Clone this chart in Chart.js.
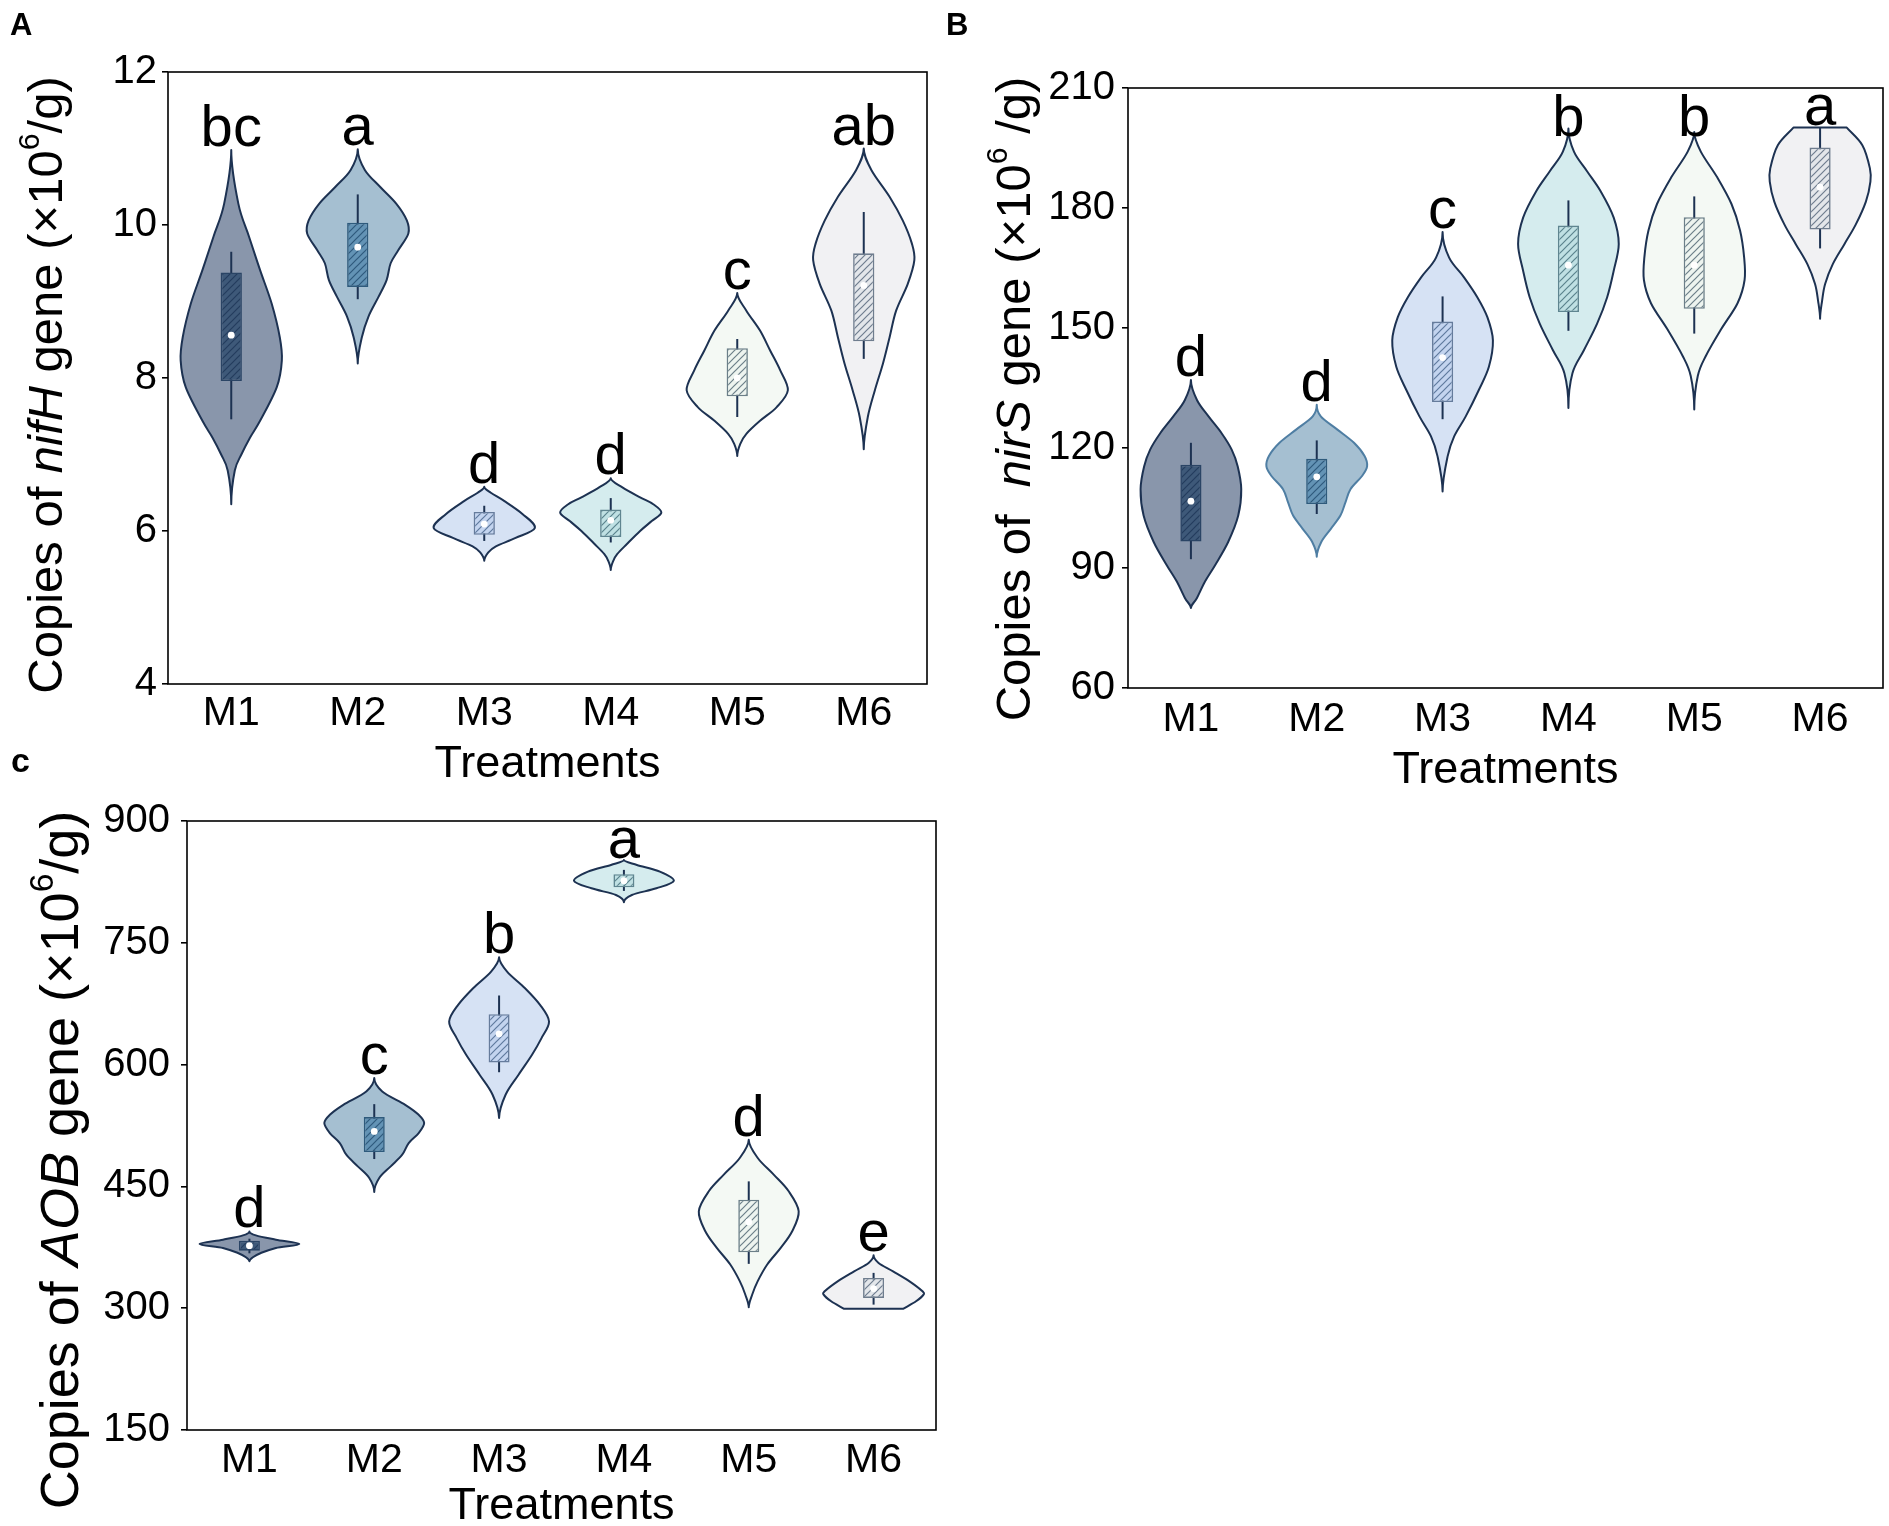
<!DOCTYPE html>
<html>
<head>
<meta charset="utf-8">
<script src="https://cdn.jsdelivr.net/npm/chart.js@4.4.1/dist/chart.umd.min.js"></script>
<style>
  html, body { margin:0; padding:0; background:#fff; width:1889px; height:1526px; overflow:hidden; }
  canvas { position:absolute; }
</style>
</head>
<body>
<canvas id="cA" width="945" height="800" style="left:0;top:0"></canvas>
<canvas id="cB" width="944" height="800" style="left:945px;top:0"></canvas>
<canvas id="cC" width="945" height="800" style="left:0;top:740px"></canvas>
<script>
// ---------------- DATA ----------------
const categories = ['M1','M2','M3','M4','M5','M6'];

// Panel A: nifH (x10^6/g)
const nifH_whiskerLow  = [7.46, 9.03, 5.87, 5.85, 7.49, 8.25];
const nifH_q1          = [7.96, 9.19, 5.95, 5.92, 7.76, 8.48];
const nifH_median      = [8.56, 9.71, 6.09, 6.14, 8.00, 9.21];
const nifH_q3          = [9.38, 10.03, 6.25, 6.28, 8.39, 9.63];
const nifH_whiskerHigh = [9.65, 10.40, 6.33, 6.43, 8.51, 10.17];
const nifH_letters     = ['bc','a','d','d','c','ab'];
// density profiles: [value, relative density]
const nifH_density = [
  [[10.98,0],[10.28,0.14],[9.85,0.35],[9.41,0.57],[8.97,0.8],[8.53,0.96],[8.23,1],[7.88,0.9],[7.44,0.57],[7.22,0.37],[7.0,0.2],[6.79,0.07],[6.35,0]],
  [[10.99,0],[10.72,0.14],[10.5,0.44],[10.28,0.76],[10.06,0.97],[9.89,1],[9.67,0.8],[9.5,0.65],[9.28,0.57],[9.06,0.41],[8.8,0.21],[8.53,0.08],[8.19,0]],
  [[6.58,0],[6.50,0.13],[6.39,0.4],[6.22,0.76],[6.04,1],[5.91,0.62],[5.80,0.23],[5.72,0.08],[5.61,0]],
  [[6.69,0],[6.57,0.23],[6.44,0.58],[6.35,0.84],[6.24,1],[6.13,0.81],[6.0,0.58],[5.83,0.32],[5.70,0.13],[5.61,0.05],[5.49,0]],
  [[9.11,0],[8.88,0.18],[8.62,0.45],[8.36,0.65],[8.10,0.85],[7.84,1],[7.62,0.78],[7.44,0.45],[7.27,0.18],[7.14,0.06],[6.98,0]],
  [[11.0,0],[10.72,0.15],[10.37,0.51],[10.06,0.77],[9.76,0.95],[9.54,1],[9.23,0.87],[8.88,0.64],[8.53,0.51],[8.19,0.38],[7.84,0.22],[7.49,0.08],[7.07,0]]
];
const nifH_ticks = [4, 12, 2];

// Panel B: nirS (x10^6/g)
const nirS_whiskerLow  = [92.2, 103.5, 127.2, 149.3, 148.6, 169.9];
const nirS_q1          = [96.6, 106.0, 131.5, 154.0, 154.8, 174.6];
const nirS_median      = [106.7, 112.8, 142.6, 165.7, 165.7, 185.2];
const nirS_q3          = [115.8, 117.3, 151.6, 175.6, 177.7, 195.1];
const nirS_whiskerHigh = [121.3, 121.9, 157.9, 181.9, 182.9, 200.1];
const nirS_letters     = ['d','d','c','b','b','a'];
const nirS_density = [
  [[137.0,0],[132.0,0.12],[127.9,0.35],[123.7,0.61],[119.6,0.81],[115.4,0.93],[109.7,1],[103.1,0.94],[96.5,0.74],[90.7,0.48],[86.6,0.28],[82.5,0.12],[80.0,0]],
  [[130.8,0],[127.9,0.08],[124.6,0.41],[121.3,0.74],[118.0,0.95],[115.4,1],[113.0,0.9],[109.7,0.67],[106.4,0.57],[103.1,0.47],[99.8,0.28],[96.5,0.09],[92.8,0]],
  [[174.0,0],[167.6,0.13],[162.6,0.43],[157.7,0.69],[152.7,0.89],[146.9,1],[140.3,0.92],[134.5,0.72],[127.9,0.46],[122.9,0.23],[117.9,0.1],[109.1,0]],
  [[199.9,0],[194.1,0.11],[189.2,0.37],[184.2,0.64],[177.6,0.9],[171.0,1],[164.3,0.9],[157.7,0.77],[151.1,0.57],[144.5,0.31],[138.7,0.08],[130.0,0]],
  [[199.0,0],[194.1,0.13],[187.6,0.46],[181.0,0.74],[174.4,0.91],[167.8,0.99],[162.0,1],[156.2,0.86],[149.6,0.53],[143.0,0.23],[138.0,0.07],[129.6,0]],
  [[200.1,0.53],[195.7,0.84],[189.9,0.99],[186.6,1],[181.6,0.91],[175.9,0.71],[170.9,0.48],[165.9,0.25],[161.0,0.1],[156.8,0.04],[152.3,0]]
];
const nirS_ticks = [60, 210, 30];

// Panel C: AOB (x10^6/g)
const AOB_whiskerLow  = [367.6, 483.7, 590.6, 813.9, 354.6, 304.4];
const AOB_q1          = [370.9, 492.3, 602.6, 818.4, 368.8, 312.7];
const AOB_median      = [377.0, 517.7, 637.9, 826.5, 406.2, 324.2];
const AOB_q3          = [383.2, 535.4, 662.1, 834.4, 433.6, 337.3];
const AOB_whiskerHigh = [385.6, 551.3, 685.1, 839.8, 456.2, 343.5];
const AOB_letters     = ['d','c','b','a','d','e'];
const AOB_density = [
  [[394.6,0],[389.7,0.13],[384.4,0.53],[379.1,1],[374.2,0.53],[368.0,0.23],[362.7,0.07],[357.7,0]],
  [[583.4,0],[566.9,0.16],[550.5,0.62],[538.2,0.89],[528.0,1],[515.7,0.89],[503.4,0.69],[489.0,0.56],[474.7,0.33],[460.3,0.1],[443.1,0]],
  [[732.3,0],[714.6,0.16],[694.1,0.52],[673.6,0.82],[653.1,1],[632.6,0.85],[612.1,0.66],[587.5,0.39],[562.9,0.13],[534.2,0]],
  [[852.0,0],[845.9,0.26],[837.7,0.72],[826.5,1],[817.1,0.65],[808.9,0.16],[800.0,0]],
  [[507.5,0],[485.0,0.18],[464.5,0.5],[444.0,0.8],[419.4,1],[394.8,0.87],[374.3,0.64],[353.8,0.37],[333.3,0.18],[316.9,0.07],[301.1,0]],
  [[365.1,0],[355.7,0.1],[345.4,0.39],[333.1,0.72],[320.8,0.98],[316.7,1],[308.5,0.85],[299.2,0.59]]
];
const AOB_ticks = [150, 900, 150];

// ---------------- STYLE ----------------
const FONT = "'Liberation Sans', Arial, Helvetica, sans-serif";
const violinFill  = ['#8996ab','#a5bfd1','#d6e2f4','#d5ecee','#f4f9f4','#f1f1f3'];
const violinEdge  = '#1d3252';
const boxFill     = ['#3e5979','#6393b5','#c3d4ef','#bfe0e3','#edf4ef','#e3e6ea'];
const boxHatch    = ['#243d5e','#2f5a7c','#5f7a9e','#5b838d','#6b7f88','#6f7d8e'];
const boxEdge     = ['#2a4465','#2e5a7c','#667c9c','#5f8590','#6b7f88','#6f7d8e'];

Chart.defaults.font.family = FONT;
Chart.defaults.color = '#000';

function hatch(bg, line) {
  const c = document.createElement('canvas'); c.width = 7; c.height = 7;
  const g = c.getContext('2d');
  g.fillStyle = bg; g.fillRect(0,0,7,7);
  g.strokeStyle = line; g.lineWidth = 1.2;
  g.beginPath();
  g.moveTo(-1,8); g.lineTo(8,-1);
  g.moveTo(-4.5,4.5); g.lineTo(4.5,-4.5);
  g.moveTo(2.5,11.5); g.lineTo(11.5,2.5);
  g.stroke();
  return g.createPattern(c, 'repeat');
}

function sidePath(ctx, pts, startTip, endTip, move) {
  const n = pts.length;
  const T = pts.map((p, i) => {
    if (i === 0) return startTip ? {x:0, y:(pts[1].y - p.y)} : {x:pts[1].x - p.x, y:pts[1].y - p.y};
    if (i === n-1) return endTip ? {x:0, y:(p.y - pts[n-2].y)} : {x:p.x - pts[n-2].x, y:p.y - pts[n-2].y};
    return {x:(pts[i+1].x - pts[i-1].x)/2, y:(pts[i+1].y - pts[i-1].y)/2};
  });
  if (move) ctx.moveTo(pts[0].x, pts[0].y); else ctx.lineTo(pts[0].x, pts[0].y);
  for (let i = 0; i < n-1; i++) {
    ctx.bezierCurveTo(pts[i].x + T[i].x/3, pts[i].y + T[i].y/3,
                      pts[i+1].x - T[i+1].x/3, pts[i+1].y - T[i+1].y/3,
                      pts[i+1].x, pts[i+1].y);
  }
}

const violinPlugin = {
  id: 'violins',
  beforeDatasetsDraw(chart) {
    const P = chart.options.plugins.violins;
    const ctx = chart.ctx, xs = chart.scales.x, ys = chart.scales.y;
    const catW = (chart.chartArea.right - chart.chartArea.left) / categories.length;
    const maxHW = catW * 0.40;
    P.density.forEach((prof, i) => {
      const cx = xs.getPixelForValue(i);
      const right = prof.map(([v, d]) => ({x: cx + d*maxHW, y: ys.getPixelForValue(v)}));
      const left = prof.map(([v, d]) => ({x: cx - d*maxHW, y: ys.getPixelForValue(v)})).reverse();
      const topTip = prof[0][1] === 0, botTip = prof[prof.length-1][1] === 0;
      ctx.save();
      ctx.beginPath();
      sidePath(ctx, right, topTip, botTip, true);
      sidePath(ctx, left, botTip, topTip, false);
      ctx.closePath();
      ctx.fillStyle = violinFill[i];
      ctx.fill();
      ctx.lineWidth = 2;
      ctx.lineJoin = 'round';
      ctx.strokeStyle = (P.edgeColors && P.edgeColors[i]) || violinEdge;
      ctx.stroke();
      // whisker
      ctx.beginPath();
      ctx.moveTo(cx, ys.getPixelForValue(P.whiskerLow[i]));
      ctx.lineTo(cx, ys.getPixelForValue(P.whiskerHigh[i]));
      ctx.lineWidth = 2;
      ctx.strokeStyle = '#1d3252';
      ctx.stroke();
      ctx.restore();
    });
  },
  afterDraw(chart) {
    const P = chart.options.plugins.violins;
    const ctx = chart.ctx, xs = chart.scales.x, ys = chart.scales.y, a = chart.chartArea;
    ctx.save();
    // frame
    ctx.strokeStyle = '#000'; ctx.lineWidth = 1.6;
    ctx.strokeRect(a.left, a.top, a.right - a.left, a.bottom - a.top);
    // significance letters
    ctx.font = `58px ${FONT}`; ctx.fillStyle = '#000';
    ctx.textAlign = 'center'; ctx.textBaseline = 'alphabetic';
    P.letters.forEach((t, i) => {
      const cx = xs.getPixelForValue(i);
      const tipY = ys.getPixelForValue(P.density[i][0][0]);
      const asc = ctx.measureText(t).actualBoundingBoxAscent;
      const y = Math.max(tipY - 4, a.top + asc + 6);
      ctx.fillText(t, cx, y);
    });
    // y-axis title (rich text, rotated)
    const size = P.titleSize;
    ctx.translate(P.titleX, P.titleY);
    ctx.rotate(-Math.PI/2);
    const parts = P.title.map(p => {
      const fs = p.sup ? size*0.62 : size;
      const f = `${p.italic ? 'italic ' : ''}${fs}px ${FONT}`;
      ctx.font = f;
      return {p, f, w: ctx.measureText(p.t).width};
    });
    let x = -parts.reduce((s, q) => s + q.w, 0) / 2;
    ctx.textAlign = 'left'; ctx.textBaseline = 'middle';
    parts.forEach(q => {
      ctx.font = q.f;
      ctx.fillText(q.p.t, x, q.p.sup ? -size*0.36 : 0);
      x += q.w;
    });
    ctx.setTransform(1,0,0,1,0,0);
    // panel label
    ctx.font = `bold ${P.panelSize}px ${FONT}`;
    ctx.textAlign = 'left'; ctx.textBaseline = 'alphabetic';
    ctx.fillText(P.panel, P.panelX, P.panelY);
    ctx.restore();
  }
};

function makeChart(id, cfg) {
  const canvas = document.getElementById(id);
  const W = canvas.width, H = canvas.height;
  const area = cfg.area;
  return new Chart(canvas.getContext('2d'), {
    data: {
      labels: categories,
      datasets: [
        {
          type: 'bar',
          data: cfg.q1.map((v, i) => [v, cfg.q3[i]]),
          backgroundColor: boxFill.map((c, i) => hatch(c, boxHatch[i])),
          borderColor: boxEdge,
          borderWidth: 1.6,
          borderSkipped: false,
          barPercentage: 0.168,
          categoryPercentage: 1,
          order: 2
        },
        {
          type: 'line',
          data: cfg.median,
          showLine: false,
          pointRadius: 3.4,
          pointBackgroundColor: '#ffffff',
          pointBorderWidth: 0,
          order: 1
        }
      ]
    },
    options: {
      responsive: false,
      animation: false,
      devicePixelRatio: 1,
      layout: { padding: { left: 0, top: area.t, right: W - area.r, bottom: 0 } },
      plugins: {
        legend: { display: false },
        tooltip: { enabled: false },
        violins: {
          density: cfg.density,
          whiskerLow: cfg.whiskerLow,
          whiskerHigh: cfg.whiskerHigh,
          letters: cfg.letters,
          edgeColors: cfg.edgeColors,
          title: cfg.title,
          titleSize: cfg.titleSize,
          titleX: cfg.titleX,
          titleY: cfg.titleY,
          panel: cfg.panel,
          panelX: cfg.panelX,
          panelY: cfg.panelY,
          panelSize: cfg.panelSize
        }
      },
      scales: {
        x: {
          type: 'category',
          offset: true,
          grid: { display: false, drawTicks: false },
          border: { display: false },
          ticks: { color: '#000', font: { size: 41 }, padding: cfg.xPad },
          title: { display: true, text: 'Treatments', color: '#000', font: { size: 45 }, padding: { top: 0, bottom: cfg.xTitlePad } },
          afterFit(s) { s.height = H - area.b; }
        },
        y: {
          min: cfg.ticks[0], max: cfg.ticks[1],
          ticks: { stepSize: cfg.ticks[2], color: '#000', font: { size: 40 }, padding: cfg.yPad },
          grid: { display: true, drawOnChartArea: false, drawTicks: true, tickLength: 6, color: '#000', lineWidth: 1.6 },
          border: { display: false },
          afterFit(s) { s.width = area.l; }
        }
      }
    },
    plugins: [violinPlugin]
  });
}

makeChart('cA', {
  area: { l: 168, r: 927, t: 72, b: 684 },
  q1: nifH_q1, q3: nifH_q3, median: nifH_median,
  whiskerLow: nifH_whiskerLow, whiskerHigh: nifH_whiskerHigh,
  density: nifH_density, letters: nifH_letters, ticks: nifH_ticks,
  title: [{t:'Copies of '},{t:'nifH', italic:true},{t:' gene (×10'},{t:'6', sup:true},{t:'/g)'}],
  titleSize: 49, titleX: 48, titleY: 385,
  panel: 'A', panelX: 10, panelY: 35, panelSize: 31,
  xPad: 5, xTitlePad: 8, yPad: 5
});

makeChart('cB', {
  area: { l: 183, r: 938, t: 88, b: 688 },
  q1: nirS_q1, q3: nirS_q3, median: nirS_median,
  whiskerLow: nirS_whiskerLow, whiskerHigh: nirS_whiskerHigh,
  density: nirS_density, letters: nirS_letters, ticks: nirS_ticks,
  edgeColors: [null, '#4f7ea3', null, null, null, null],
  title: [{t:'Copies of  '},{t:'nirS', italic:true},{t:' gene (×10'},{t:'6', sup:true},{t:' /g)'}],
  titleSize: 49, titleX: 71, titleY: 399,
  panel: 'B', panelX: 1, panelY: 35, panelSize: 31,
  xPad: 7, xTitlePad: 2, yPad: 7
});

makeChart('cC', {
  area: { l: 187, r: 936, t: 81, b: 690 },
  q1: AOB_q1, q3: AOB_q3, median: AOB_median,
  whiskerLow: AOB_whiskerLow, whiskerHigh: AOB_whiskerHigh,
  density: AOB_density, letters: AOB_letters, ticks: AOB_ticks,
  title: [{t:'Copies of '},{t:'AOB', italic:true},{t:' gene (×10'},{t:'6', sup:true},{t:'/g)'}],
  titleSize: 54, titleX: 63, titleY: 420,
  panel: 'c', panelX: 11, panelY: 32, panelSize: 34,
  xPad: 6, xTitlePad: 6, yPad: 11
});
</script>
</body>
</html>
